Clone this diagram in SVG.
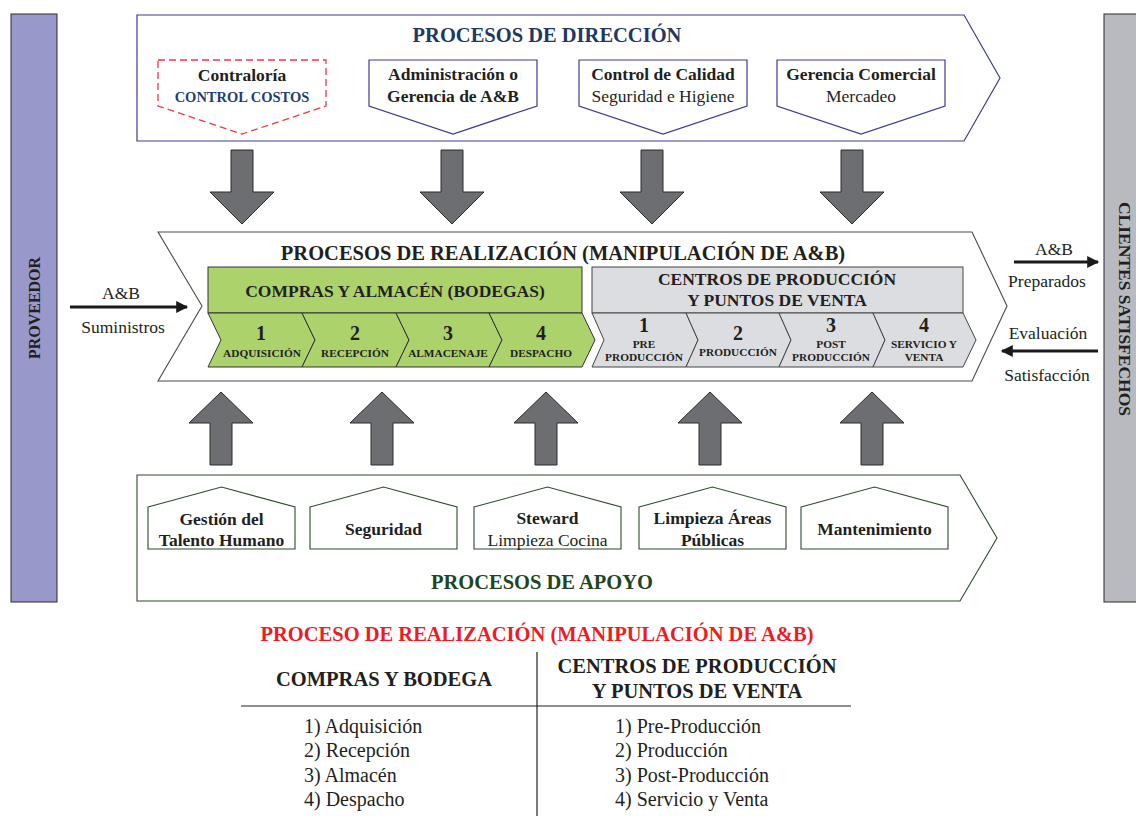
<svg xmlns="http://www.w3.org/2000/svg" width="1136" height="816" viewBox="0 0 1136 816">
  <defs>
    <style>
      text { font-family: "Liberation Serif", "Times New Roman", serif; fill: #231f20; text-anchor: middle; }
      .b { font-weight: bold; }
      .t17 { font-size: 17.5px; }
      .t20 { font-size: 20.5px; font-weight: bold; }
      .num { font-size: 20px; font-weight: bold; }
      .lab { font-size: 11.3px; font-weight: bold; }
      .dirbox { fill: #ffffff; stroke: #3c3d8f; stroke-width: 1.2; }
      .apbox { fill: #ffffff; stroke: #2f4a2f; stroke-width: 1.1; }
      .realbox { fill: #ffffff; stroke: #4a4a4a; stroke-width: 1.1; }
      .bigarrow { fill: #6d6e72; stroke: #2b2b2b; stroke-width: 1; }
      .green { fill: #acd26c; stroke: #333333; stroke-width: 1; }
      .grey { fill: #dcdde0; stroke: #444444; stroke-width: 1; }
      .flow { stroke: #1a1a1a; stroke-width: 3; fill: none; }
      .list { font-size: 20px; text-anchor: start; }
    </style>
    <marker id="head" viewBox="0 0 10 10" refX="9" refY="5" markerWidth="22" markerHeight="12" markerUnits="userSpaceOnUse" orient="auto">
      <path d="M0,0 L10,5 L0,10 Z" fill="#1a1a1a"/>
    </marker>
  </defs>

  <!-- side actors -->
  <g id="proveedor">
    <rect x="11" y="14" width="46" height="588" fill="#9898cb" stroke="#2b2b2b" stroke-width="1"/>
    <text class="b" font-size="16" transform="translate(40,308) rotate(-90)">PROVEEDOR</text>
  </g>
  <g id="clientes">
    <rect x="1104" y="14" width="40" height="588" fill="#b9b9c0" stroke="#2b2b2b" stroke-width="1"/>
    <text class="b" font-size="17.5" transform="translate(1119,309) rotate(90)">CLIENTES SATISFECHOS</text>
  </g>

  <!-- management processes -->
  <g id="direccion">
    <polygon class="dirbox" points="137,15 964,15 1000,78 964,141 137,141"/>
    <text class="t20" x="547" y="42" style="fill:#1f3864">PROCESOS DE DIRECCIÓN</text>
  </g>
  <g id="contraloria">
    <polygon points="158,60 326,60 326,106 242,134 158,106" fill="#ffffff" stroke="#ee3a43" stroke-width="1.3" stroke-dasharray="7 4"/>
    <text class="b t17" x="242" y="81">Contraloría</text>
    <text class="b" font-size="14.5" x="242" y="102" style="fill:#1f3f73">CONTROL COSTOS</text>
  </g>
  <g id="administracion">
    <polygon class="dirbox" points="369,60 537,60 537,106 453,134 369,106"/>
    <text class="b t17" x="453" y="80">Administración o</text>
    <text class="b t17" x="453" y="102">Gerencia de A&amp;B</text>
  </g>
  <g id="calidad">
    <polygon class="dirbox" points="579,60 747,60 747,106 663,134 579,106"/>
    <text class="b t17" x="663" y="80">Control de Calidad</text>
    <text class="t17" x="663" y="102">Seguridad e Higiene</text>
  </g>
  <g id="gerencia">
    <polygon class="dirbox" points="777,60 945,60 945,106 861,134 777,106"/>
    <text class="b t17" x="861" y="80">Gerencia Comercial</text>
    <text class="t17" x="861" y="102">Mercadeo</text>
  </g>

  <!-- realization processes -->
  <g id="realizacion">
    <polygon class="realbox" points="158,232 972,232 1007,306 972,381 158,381 202,306"/>
    <text class="t20" x="563" y="260">PROCESOS DE REALIZACIÓN (MANIPULACIÓN DE A&amp;B)</text>
  </g>
  <g id="compras">
    <rect class="green" x="208" y="267" width="374" height="46"/>
    <text class="b" font-size="17.5" x="395" y="297">COMPRAS Y ALMACÉN (BODEGAS)</text>
  </g>
  <g id="c1">
    <polygon class="green" points="208,313 302,313 315,340 302,367 208,367 221,340"/>
    <text class="num" x="261" y="340">1</text>
    <text class="lab" x="262" y="357">ADQUISICIÓN</text>
  </g>
  <g id="c2">
    <polygon class="green" points="302,313 396,313 409,340 396,367 302,367 315,340"/>
    <text class="num" x="355" y="340">2</text>
    <text class="lab" x="355" y="357">RECEPCIÓN</text>
  </g>
  <g id="c3">
    <polygon class="green" points="396,313 489,313 502,340 489,367 396,367 409,340"/>
    <text class="num" x="448" y="340">3</text>
    <text class="lab" x="448" y="357">ALMACENAJE</text>
  </g>
  <g id="c4">
    <polygon class="green" points="489,313 582,313 595,340 582,367 489,367 502,340"/>
    <text class="num" x="541" y="340">4</text>
    <text class="lab" x="541" y="357">DESPACHO</text>
  </g>

  <g id="centros">
    <rect class="grey" x="592" y="267" width="371" height="46"/>
    <text class="b" font-size="17.5" x="777" y="285">CENTROS DE PRODUCCIÓN</text>
    <text class="b" font-size="17.5" x="777" y="306">Y PUNTOS DE VENTA</text>
  </g>
  <g id="p1">
    <polygon class="grey" points="592,313 686,313 698,340 686,367 592,367 604,340"/>
    <text class="num" x="644" y="332">1</text>
    <text class="lab" x="644" y="348">PRE</text>
    <text class="lab" x="644" y="361">PRODUCCIÓN</text>
  </g>
  <g id="p2">
    <polygon class="grey" points="686,313 779,313 791,340 779,367 686,367 698,340"/>
    <text class="num" x="738" y="340">2</text>
    <text class="lab" x="738" y="356">PRODUCCIÓN</text>
  </g>
  <g id="p3">
    <polygon class="grey" points="779,313 873,313 885,340 873,367 779,367 791,340"/>
    <text class="num" x="831" y="332">3</text>
    <text class="lab" x="831" y="348">POST</text>
    <text class="lab" x="831" y="361">PRODUCCIÓN</text>
  </g>
  <g id="p4">
    <polygon class="grey" points="873,313 963,313 976,340 963,367 873,367 885,340"/>
    <text class="num" x="924" y="332">4</text>
    <text class="lab" x="924" y="348">SERVICIO Y</text>
    <text class="lab" x="924" y="361">VENTA</text>
  </g>

  <!-- support processes -->
  <g id="apoyo">
    <polygon class="apbox" points="137,475 960,475 997,538 960,601 137,601"/>
    <text class="t20" x="542" y="589" style="fill:#1e4620">PROCESOS DE APOYO</text>
  </g>
  <g id="talento">
    <polygon class="apbox" points="148,507 221.5,487 295,507 295,549 148,549"/>
    <text class="b t17" x="221.5" y="525">Gestión del</text>
    <text class="b t17" x="221.5" y="546">Talento Humano</text>
  </g>
  <g id="seguridad">
    <polygon class="apbox" points="310,507 383.5,487 457,507 457,549 310,549"/>
    <text class="b t17" x="383.5" y="535">Seguridad</text>
  </g>
  <g id="steward">
    <polygon class="apbox" points="474,507 547.5,487 621,507 621,549 474,549"/>
    <text class="b t17" x="547.5" y="524">Steward</text>
    <text class="t17" x="547.5" y="546">Limpieza Cocina</text>
  </g>
  <g id="limpieza">
    <polygon class="apbox" points="639,507 712.5,487 786,507 786,549 639,549"/>
    <text class="b t17" x="712.5" y="524">Limpieza Áreas</text>
    <text class="b t17" x="712.5" y="546">Públicas</text>
  </g>
  <g id="mantenimiento">
    <polygon class="apbox" points="801,507 874.5,487 948,507 948,549 801,549"/>
    <text class="b t17" x="874.5" y="535">Mantenimiento</text>
  </g>

  <!-- connectors -->
  <g id="connectors">
    <path class="bigarrow" d="M231,150 H253 V192 H274 L242,224 L210,192 H231 Z"/>
    <path class="bigarrow" d="M441,150 H463 V192 H484 L452,224 L420,192 H441 Z"/>
    <path class="bigarrow" d="M641,150 H663 V192 H684 L652,224 L620,192 H641 Z"/>
    <path class="bigarrow" d="M841,150 H863 V192 H884 L852,224 L820,192 H841 Z"/>

    <path class="bigarrow" d="M210,465 V423 H189 L221,392 L253,423 H232 V465 Z"/>
    <path class="bigarrow" d="M371,465 V423 H350 L382,392 L414,423 H393 V465 Z"/>
    <path class="bigarrow" d="M535,465 V423 H514 L546,392 L578,423 H557 V465 Z"/>
    <path class="bigarrow" d="M699,465 V423 H678 L710,392 L742,423 H721 V465 Z"/>
    <path class="bigarrow" d="M861,465 V423 H840 L872,392 L904,423 H883 V465 Z"/>

    <line class="flow" x1="70" y1="307" x2="187" y2="307" marker-end="url(#head)"/>
    <text class="t17" x="121" y="299">A&amp;B</text>
    <text class="t17" x="123" y="333">Suministros</text>

    <line class="flow" x1="1014" y1="262" x2="1098" y2="262" marker-end="url(#head)"/>
    <text class="t17" x="1054" y="255">A&amp;B</text>
    <text class="t17" x="1047" y="287">Preparados</text>

    <line class="flow" x1="1098" y1="351" x2="1002" y2="351" marker-end="url(#head)"/>
    <text class="t17" x="1048" y="339">Evaluación</text>
    <text class="t17" x="1047" y="381">Satisfacción</text>
  </g>

  <!-- summary table -->
  <g id="tabla">
    <text class="t20" x="537" y="641" style="fill:#ed1c24">PROCESO DE REALIZACIÓN (MANIPULACIÓN DE A&amp;B)</text>
    <line x1="537" y1="652" x2="537" y2="816" stroke="#231f20" stroke-width="1.2"/>
    <line x1="241" y1="706" x2="851" y2="706" stroke="#231f20" stroke-width="1.2"/>
    <text class="t20" x="384" y="686">COMPRAS Y BODEGA</text>
    <text class="t20" x="697" y="673">CENTROS DE PRODUCCIÓN</text>
    <text class="t20" x="697" y="698">Y PUNTOS DE VENTA</text>
    <text class="list" x="304" y="733">1) Adquisición</text>
    <text class="list" x="304" y="757">2) Recepción</text>
    <text class="list" x="304" y="782">3) Almacén</text>
    <text class="list" x="304" y="806">4) Despacho</text>
    <text class="list" x="615" y="733">1) Pre-Producción</text>
    <text class="list" x="615" y="757">2) Producción</text>
    <text class="list" x="615" y="782">3) Post-Producción</text>
    <text class="list" x="615" y="806">4) Servicio y Venta</text>
  </g>
</svg>
